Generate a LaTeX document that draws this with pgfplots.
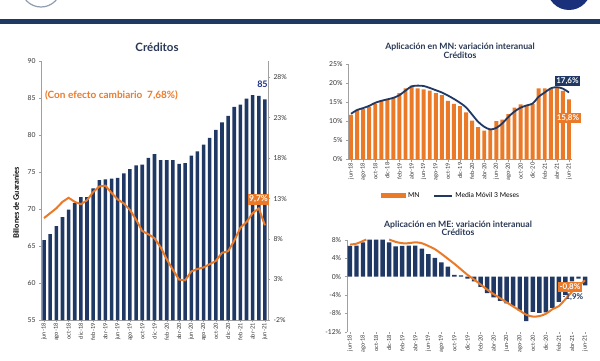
\documentclass[border=0pt]{standalone}
\usepackage{fontspec}
\setmainfont{Lato}
\usepackage{pgfplots}
\pgfplotsset{compat=1.18}
\definecolor{navy}{RGB}{31,56,100}
\definecolor{orng}{RGB}{234,122,40}
\definecolor{axgray}{RGB}{160,160,160}
\definecolor{ttl}{RGB}{40,55,85}
\pgfplotsset{
  base/.style={scale only axis, /pgf/number format/assume math mode=true,
    tick label style={font=\fontsize{6.8}{7}\selectfont, color=black!80},
    axis line style={axgray}, tick style={axgray, thin}, major tick length=2pt,
    tick align=outside, clip=false},
  xl/.style={xtick={1,3,...,37},
    xticklabels={jun-18,ago-18,oct-18,dic-18,feb-19,abr-19,jun-19,ago-19,oct-19,dic-19,feb-20,abr-20,jun-20,ago-20,oct-20,dic-20,feb-21,abr-21,jun-21},
    x tick label style={rotate=90, anchor=east, inner sep=1pt, font=\fontsize{5.7}{6}\selectfont}},
}
\begin{document}
\begin{tikzpicture}[x=1pt,y=1pt]
\useasboundingbox (0,0) rectangle (600,360);
\begin{scope}
\clip (0,0) rectangle (600,360);
\fill[navy] (0,336.5) rectangle (600,341.5);
\fill[navy!85!blue] (569,372) circle (22);
\draw[navy!50, line width=1.2pt] (41,373) circle (20);
\end{scope}
% ---------------- left chart
\node[font=\bfseries\fontsize{11.5}{12}\selectfont, text=ttl] at (157,313) {Créditos};
\node[rotate=90, font=\bfseries\fontsize{7.5}{8}\selectfont] at (16,157) {Billones de Guaranies};
\begin{axis}[base, xl, at={(41pt,40pt)}, anchor=south west, width=227pt, height=259pt,
  xmin=0.5, xmax=37.5, ymin=55, ymax=90, ytick={55,60,...,90},
  axis x line*=bottom, axis y line*=left]
\addplot[ybar, bar width=0.58, fill=navy, draw=none] coordinates {
(1,65.8)(2,66.6)(3,67.7)(4,68.9)(5,69.9)(6,70.8)(7,71.6)(8,71.6)(9,72.8)(10,73.9)
(11,74.0)(12,74.1)(13,74.2)(14,74.8)(15,75.4)(16,75.9)(17,76.0)(18,76.9)(19,77.4)(20,76.6)
(21,76.6)(22,76.6)(23,76.1)(24,76.2)(25,77.2)(26,77.8)(27,78.7)(28,79.6)(29,80.7)(30,81.7)
(31,82.6)(32,83.8)(33,84.1)(34,84.9)(35,85.4)(36,85.3)(37,84.8)};
\node[font=\bfseries\fontsize{9}{10}\selectfont, text=navy!80!blue] at (axis cs:36.6,86.9) {85};
\node[anchor=west, font=\bfseries\fontsize{10}{11}\selectfont, text=orng] at (axis cs:0.6,85.4) {(Con efecto cambiario\ \ 7,68\%)};
\end{axis}
\begin{axis}[base, at={(41pt,40pt)}, anchor=south west, width=227pt, height=259pt,
  xmin=0.5, xmax=37.5, ymin=-2, ymax=30, ytick={-2,3,...,28},
  yticklabel={\pgfmathprintnumber{\tick}\%},
  axis y line*=right, axis x line=none]
\addplot[orng, line width=2pt] coordinates {
(1,10.6)(2,11.2)(3,11.8)(4,12.6)(5,13.1)(6,12.6)(7,12.3)(8,12.8)(9,13.8)(10,14.5)
(11,14.6)(12,13.7)(13,12.9)(14,12.4)(15,11.6)(16,10.4)(17,9.0)(18,8.6)(19,8.1)(20,7.0)
(21,5.5)(22,4.2)(23,3.0)(24,2.9)(25,4.0)(26,4.3)(27,4.5)(28,4.9)(29,5.3)(30,6.3)
(31,6.5)(32,7.8)(33,9.4)(34,10.1)(35,11.2)(36,11.8)(37,9.7)};
\node[fill=orng, text=white, font=\bfseries\fontsize{8.5}{9}\selectfont, inner sep=1.5pt] at (axis cs:35.95,12.9) {9,7\%};
\end{axis}
% ---------------- MN chart
\node[font=\bfseries\fontsize{8.7}{9.5}\selectfont, text=ttl, align=center] at (460,309) {Aplicación en MN: variación interanual\\[-1pt]Créditos};
\begin{axis}[base, xl, at={(348pt,200.5pt)}, anchor=south west, width=224pt, height=95.2pt,
  xmin=0.5, xmax=37.5, ymin=0, ymax=25, ytick={0,5,...,25},
  yticklabel={\pgfmathprintnumber{\tick}\%},
  axis x line*=bottom, axis y line*=left,
  legend style={at={(0.46,-0.383)}, anchor=center, draw=none, fill=none, legend columns=2,
    font=\fontsize{6.8}{7}\selectfont, /tikz/every even column/.append style={column sep=12pt}}]
\addplot[ybar, bar width=0.65, fill=orng, draw=none,
  legend image code/.code={\fill[orng] (0pt,-2.5pt) rectangle (25pt,2.5pt);}] coordinates {
(1,11.7)(2,13.0)(3,13.2)(4,13.9)(5,14.7)(6,15.6)(7,15.8)(8,16.1)(9,17.4)(10,18.7)
(11,19.4)(12,18.7)(13,18.4)(14,18.1)(15,17.4)(16,16.9)(17,15.4)(18,14.6)(19,14.0)(20,12.4)
(21,10.2)(22,8.5)(23,7.6)(24,7.9)(25,10.1)(26,10.5)(27,11.9)(28,13.6)(29,14.5)(30,14.3)
(31,14.6)(32,18.7)(33,18.7)(34,18.7)(35,19.0)(36,18.0)(37,15.8)};
\addlegendentry{MN}
\addplot[navy, line width=1.8pt, smooth,
  legend image code/.code={\draw[navy, line width=1.8pt] (0pt,0pt) -- (18pt,0pt);}] coordinates {
(1,12.0)(2,13.0)(3,13.5)(4,14.1)(5,14.9)(6,15.4)(7,15.8)(8,16.2)(9,16.9)(10,18.1)
(11,19.2)(12,19.4)(13,19.3)(14,18.8)(15,18.2)(16,17.6)(17,16.8)(18,15.9)(19,14.9)(20,13.7)
(21,11.8)(22,9.9)(23,8.6)(24,7.9)(25,8.3)(26,9.5)(27,11.2)(28,12.6)(29,13.6)(30,14.2)
(31,14.7)(32,16.5)(33,17.6)(34,18.7)(35,19.0)(36,18.6)(37,17.6)};
\addlegendentry{Media Móvil 3 Meses}
\node[fill=navy, text=white, font=\bfseries\fontsize{8}{8}\selectfont, inner sep=1.5pt] at (axis cs:36.76,20.6) {17,6\%};
\node[fill=orng, text=white, font=\bfseries\fontsize{8}{8}\selectfont, inner sep=1.5pt] at (axis cs:36.84,10.77) {15,8\%};
\end{axis}
% ---------------- ME chart
\node[font=\bfseries\fontsize{8.7}{9.5}\selectfont, text=ttl, align=center] at (458,131.5) {Aplicación en ME: variación interanual\\[-1pt]Créditos};
\begin{axis}[base, xl, at={(346.7pt,28.3pt)}, anchor=south west, width=241.6pt, height=91.7pt,
  xmin=0.5, xmax=37.5, ymin=-12, ymax=8, ytick={-12,-8,...,8},
  yticklabel={\pgfmathprintnumber{\tick}\%},
  axis x line*=bottom, axis y line*=left, x axis line style={draw=none}]
\addplot[ybar, bar width=0.68, fill=navy, draw=none] coordinates {
(1,6.7)(2,6.8)(3,7.5)(4,8.1)(5,8.1)(6,8.1)(7,7.5)(8,6.6)(9,6.7)(10,6.8)
(11,6.8)(12,6.1)(13,4.9)(14,4.1)(15,3.1)(16,2.2)(17,0.4)(18,0.3)(19,-0.4)(20,-1.0)
(21,-2.2)(22,-3.6)(23,-4.5)(24,-5.3)(25,-5.8)(26,-6.4)(27,-7.4)(28,-9.7)(29,-7.7)(30,-7.9)
(31,-7.8)(32,-6.8)(33,-5.5)(34,-4.0)(35,-1.0)(36,-0.4)(37,-1.9)};
\addplot[orng, line width=2pt, smooth] coordinates {(1,7.0)(2,7.2)(3,7.8)(3.5,8.1)};
\addplot[orng, line width=2pt, smooth] coordinates {
(7,8.1)(8,7.6)(9,7.3)(10,7.3)(11,7.5)(12,7.3)(13,6.7)(14,6.0)(15,5.0)(16,3.9)
(17,2.8)(18,1.6)(19,0.4)(20,-0.6)(21,-1.7)(22,-2.8)(23,-3.8)(24,-4.7)(25,-5.6)(26,-6.5)
(27,-7.4)(28,-8.3)(29,-8.7)(30,-8.6)(31,-8.1)(32,-7.1)(33,-6.4)(34,-4.9)(35,-3.3)(36,-2.0)(37,-0.8)};
\node[fill=orng, text=white, font=\bfseries\fontsize{8}{8}\selectfont, inner sep=1.5pt] at (axis cs:34.7,-2.25) {-0,8\%};
\node[text=navy, font=\bfseries\fontsize{8}{8}\selectfont, inner sep=0pt] at (axis cs:35.15,-4.43) {-1,9\%};
\end{axis}
\end{tikzpicture}
\end{document}
